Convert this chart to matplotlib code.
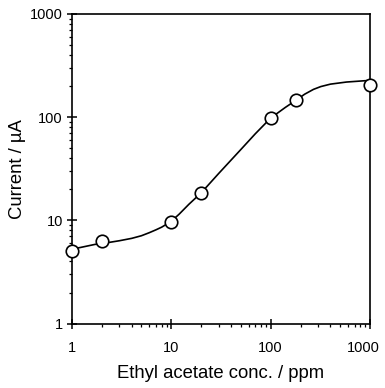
import matplotlib
matplotlib.use("Agg")
import matplotlib.pyplot as plt
import matplotlib.transforms as mtransforms
from matplotlib.ticker import LogLocator, NullFormatter

plt.rcParams["font.family"] = ["Liberation Sans", "DejaVu Sans"]

# measured points (ppm, uA)
conc = [1, 2, 10, 20, 100, 180, 1000]
current = [5.0, 6.3, 9.7, 18.3, 98, 146, 205]

# smooth guide line
curve_conc = [1, 1.2, 1.7, 2.2, 3, 4, 5, 6, 7, 8, 10, 12, 15, 20, 30, 50, 70,
              100, 140, 180, 220, 270, 320, 400, 580, 860, 1000]
curve_current = [5.3, 5.45, 5.85, 6.05, 6.35, 6.7, 7.1, 7.6, 8.1, 8.6, 9.8,
                 11.5, 14.3, 18.5, 28.5, 48.5, 69, 98, 124, 146, 167, 186,
                 198, 209, 219, 225, 227]

major_ticks = [1, 10, 100, 1000]
major_labels = ["1", "10", "100", "1000"]

fig = plt.figure(figsize=(3.85, 3.88), dpi=100)
ax = fig.add_axes([0.187, 0.166, 0.774, 0.798])

ax.plot(curve_conc, curve_current, color="black", lw=1.2, zorder=2)
ax.plot(conc, current, "o", ms=9, mfc="white", mec="black", mew=1.2,
        zorder=3, clip_on=False)

ax.set_xscale("log")
ax.set_yscale("log")
ax.set_xlim(1, 1000)
ax.set_ylim(1, 1000)

ax.set_xticks(major_ticks, major_labels)
ax.set_yticks(major_ticks, major_labels)
for axis in (ax.xaxis, ax.yaxis):
    axis.set_minor_locator(LogLocator(base=10, subs=range(2, 10)))
    axis.set_minor_formatter(NullFormatter())

ax.tick_params(which="major", direction="inout", length=7, width=1.1,
               labelsize=10.5)
ax.tick_params(which="minor", direction="out", length=2.5, width=0.9)
ax.tick_params(axis="x", which="major", pad=9)
ax.tick_params(axis="y", which="major", pad=3)

# last x label sits a little left of its tick, as in the original
last = ax.get_xticklabels()[-1]
last.set_transform(last.get_transform() +
                   mtransforms.ScaledTranslation(-5 / 72, 0, fig.dpi_scale_trans))

for sp in ax.spines.values():
    sp.set_linewidth(1.2)

ax.set_xlabel("Ethyl acetate conc. / ppm", fontsize=13.3, labelpad=7)
ax.set_ylabel("Current / µA", fontsize=13.3, labelpad=3)

fig.savefig("out.png", dpi=100)
